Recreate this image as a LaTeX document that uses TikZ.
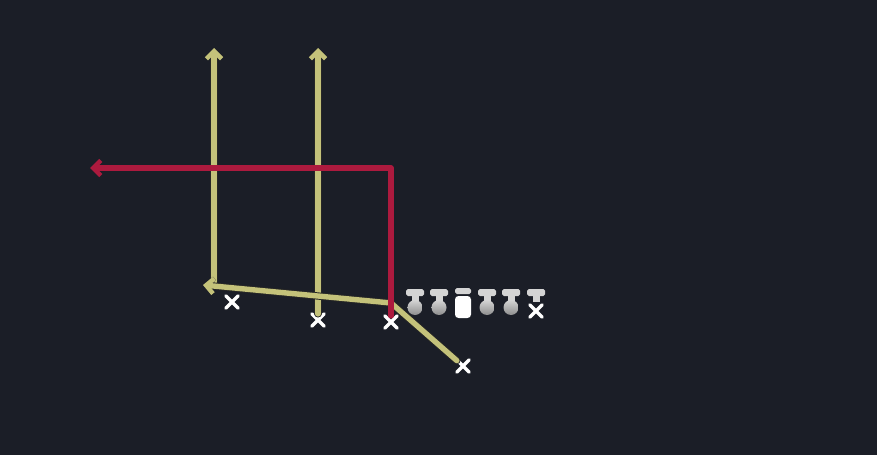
\documentclass[tikz,border=0pt]{standalone}
\usetikzlibrary{arrows.meta,shapes.misc}
\definecolor{field}{HTML}{1B1E27}
\definecolor{route}{HTML}{C4C27A}
\definecolor{blockred}{HTML}{AC1A3E}
\definecolor{linegray}{HTML}{D4D4D4}
\definecolor{lineshade}{HTML}{8E8E8E}
\tikzset{
  player/.style={draw=white, cross out, line width=3pt, minimum size=7.5pt, inner sep=0pt},
  route/.style={draw=route, line width=4.6pt, preaction={draw=black!85, line width=6.2pt}},
  redroute/.style={draw=blockred, line width=4.8pt},
}
\begin{document}
\begin{tikzpicture}[x=0.03cm, y=-0.03cm, line join=round, line cap=round,
    >={Straight Barb[length=6.5pt, width=13pt, line width=3.8pt]}]
  \fill[field] (0,0) rectangle (877,455);
  % players
  \node[player] (wr1) at (232,302) {};
  \node[player] (wr2) at (318,320) {};
  \node[player] (te) at (391,322) {};
  \node[player] (qb) at (463,366) {};
  \coordinate (turn) at (214,284);
  \coordinate (go1) at (214,48);
  \coordinate (go2) at (318,48);
  \coordinate (mesh) at (391,303);
  \coordinate (pitch) at (203,285);
  \coordinate (corner) at (391,168);
  \coordinate (cross) at (90,168);
  % routes
  \draw[route,->] (turn) -- (go1);
  \draw[route,->] (wr2) -- (go2);
  \draw[route,->] (qb) -- (mesh) -- (pitch);
  \draw[redroute,->] (te) -- (corner) -- (cross);
  % line
  \foreach \x in {415,439,487,511,536} {
    \fill[linegray, rounded corners=1.5pt] (\x-9,289) rectangle (\x+9,296);
    \fill[linegray] (\x-3.5,294) rectangle (\x+3.5,302);
  }
  \foreach \x in {415,439,487,511}
    \shade[top color=linegray, bottom color=lineshade] (\x,307.5) circle (7.5);
  \fill[linegray, rounded corners=1.5pt] (455,288) rectangle (471,294);
  \fill[white, rounded corners=3pt] (455,296) rectangle (471,318);
  \node[player] (endx) at (536,311) {};
\end{tikzpicture}
\end{document}
